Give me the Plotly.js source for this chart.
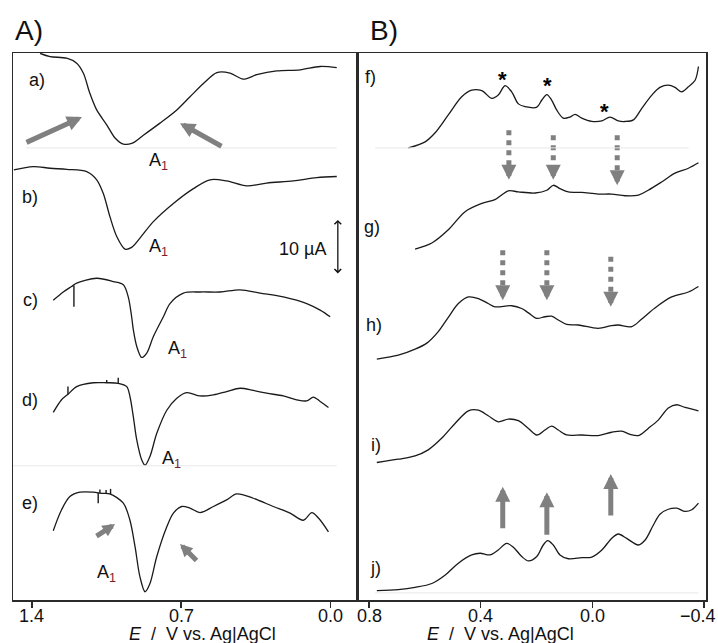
<!DOCTYPE html>
<html><head><meta charset="utf-8">
<script src="https://cdn.plot.ly/plotly-3.0.1.min.js"></script>
<style>html,body{margin:0;padding:0;background:#fff}#chart{width:718px;height:643px}</style>
</head><body><div id="chart"></div>
<script>
// ---- Panel A: potential (V) and offset current (uA) ----
const eA = [1.362,1.315,1.237,1.190,1.159,1.128,1.096,1.049,1.010,0.971,0.932,0.877,0.799,0.720,0.658,0.595,0.532,0.470,0.408,0.345,0.251,0.141,0.047,-0.031];
const iA = [99.4,98.8,98.5,97.6,95.8,92.1,89.1,86.4,84.0,82.9,83.0,84.5,86.7,89.1,91.5,93.9,95.9,95.8,94.7,95.5,96.2,96.4,97.0,96.8];
const eB = [1.485,1.394,1.315,1.237,1.143,1.096,1.065,1.034,1.002,0.963,0.932,0.893,0.830,0.736,0.642,0.564,0.486,0.391,0.298,0.173,0.063,-0.031];
const iB = [78.2,78.8,78.5,78.3,77.9,76.4,73.9,69.7,66.1,63.8,64.1,65.8,68.8,72.1,74.8,76.4,76.2,75.3,75.8,76.2,76.8,77.0];
const eC = [1.300,1.253,1.214,1.190,1.096,1.018,0.971,0.948,0.932,0.924,0.908,0.885,0.861,0.830,0.783,0.752,0.689,0.611,0.517,0.423,0.329,0.220,0.110,0.047,0.000];
const iC = [54.5,56.0,57.0,57.6,58.5,57.9,57.3,55.1,51.5,49.1,46.1,44.1,44.9,47.9,51.5,53.9,55.8,56.0,56.0,56.4,55.8,55.1,53.9,52.7,51.5];
const eD = [1.300,1.261,1.231,1.190,1.112,1.049,0.995,0.955,0.940,0.924,0.908,0.885,0.869,0.846,0.814,0.767,0.720,0.673,0.611,0.548,0.486,0.423,0.361,0.298,0.220,0.157,0.110,0.079,0.047,0.008];
const iD = [34.1,36.4,37.4,38.8,39.5,39.5,39.4,38.8,37.0,33.3,29.1,25.5,24.5,26.1,30.3,34.5,36.7,37.7,37.1,37.3,37.9,38.5,38.1,37.6,37.1,36.4,36.2,36.9,36.1,35.0];
const eE = [1.300,1.261,1.222,1.175,1.112,1.073,1.034,0.971,0.940,0.916,0.893,0.869,0.846,0.814,0.767,0.736,0.697,0.658,0.611,0.548,0.486,0.439,0.361,0.267,0.188,0.126,0.086,0.055,0.008];
const iE = [12.6,16.4,18.8,19.6,19.6,19.4,19.3,17.6,14.5,9.7,4.2,1.5,3.0,7.9,13.3,15.8,17.0,16.7,15.9,17.0,18.2,19.3,18.5,17.0,15.8,14.5,15.9,14.9,12.4];
// short noise spikes on c, d, e (potential, from-current, to-current)
const spikeE  = [1.203,1.231,1.049,0.995,1.089,1.081,1.052,1.031];
const spikeI0 = [57.2,37.4,39.5,39.4,19.5,19.4,19.4,19.2];
const spikeI1 = [53.3,38.8,40.0,40.4,17.6,20.1,20.0,20.2];
// ---- Panel B ----
const eF = [0.659,0.599,0.564,0.516,0.468,0.432,0.396,0.360,0.337,0.313,0.289,0.265,0.241,0.199,0.181,0.163,0.146,0.128,0.104,0.080,0.062,0.038,0.002,-0.034,-0.063,-0.093,-0.117,-0.147,-0.177,-0.213,-0.242,-0.272,-0.296,-0.320,-0.344,-0.368,-0.380];
const iF = [82.2,83.3,84.9,88.2,91.5,92.7,92.6,91.2,91.8,93.5,92.4,90.2,89.7,89.6,90.9,91.9,90.9,89.1,87.6,87.8,88.3,87.6,87.0,87.1,87.8,87.1,87.0,87.3,89.4,91.8,93.2,93.6,93.2,92.4,93.3,94.5,97.0];
const eG = [0.635,0.575,0.516,0.456,0.396,0.349,0.301,0.265,0.205,0.163,0.140,0.116,0.086,0.038,-0.021,-0.069,-0.117,-0.165,-0.200,-0.248,-0.296,-0.344,-0.380];
const iG = [63.8,64.9,67.3,70.6,72.1,72.8,74.4,74.2,74.0,74.5,75.4,74.8,74.2,74.1,73.8,73.8,73.5,73.6,74.5,76.0,77.6,78.5,79.5];
const eH = [0.772,0.695,0.635,0.593,0.552,0.516,0.480,0.444,0.408,0.373,0.349,0.289,0.253,0.229,0.199,0.170,0.146,0.122,0.092,0.050,-0.021,-0.069,-0.093,-0.141,-0.177,-0.224,-0.284,-0.344,-0.380];
const iH = [43.8,44.5,45.6,46.7,48.8,51.4,53.9,55.1,54.8,53.9,53.3,53.5,53.0,52.2,51.2,51.5,51.6,50.9,50.1,50.0,49.4,49.9,50.0,49.7,51.1,53.1,55.1,56.0,57.0];
const eI = [0.772,0.695,0.635,0.588,0.540,0.492,0.444,0.408,0.373,0.337,0.301,0.265,0.229,0.199,0.170,0.146,0.122,0.092,0.038,-0.021,-0.069,-0.105,-0.135,-0.165,-0.200,-0.236,-0.272,-0.302,-0.332,-0.380];
const iI = [25.0,25.6,26.2,27.3,29.4,32.1,34.4,34.5,33.5,32.4,32.9,32.6,31.2,30.0,30.9,31.6,30.9,30.0,30.0,29.9,30.5,30.7,30.1,29.9,31.2,32.7,34.9,35.5,35.0,34.4];
const eJ = [0.772,0.695,0.635,0.575,0.528,0.480,0.432,0.402,0.367,0.337,0.307,0.283,0.253,0.229,0.199,0.176,0.160,0.140,0.116,0.086,0.038,0.002,-0.034,-0.069,-0.093,-0.123,-0.165,-0.189,-0.218,-0.242,-0.272,-0.302,-0.332,-0.356,-0.380];
const iJ = [1.7,1.9,2.3,3.0,4.5,6.7,8.2,8.5,8.2,9.1,10.3,9.6,7.9,7.1,7.9,10.0,10.8,10.0,8.2,7.5,7.7,7.8,9.1,11.2,12.0,11.2,10.0,10.9,13.6,15.6,16.5,16.7,16.1,16.4,17.6];

// labels
const curveLabelsA = ['a)','b)','c)','d)','e)'];
const curveLabelEA = [1.377,1.409,1.409,1.409,1.409];
const curveLabelIA = [94.5,73.3,54.5,36.4,17.6];
const curveLabelsB = ['f)','g)','h)','i)','j)'];
const curveLabelEB = [0.796,0.789,0.782,0.775,0.778];
const curveLabelIB = [95.1,67.8,50.0,28.2,5.8];
const peakE = [0.808,0.808,0.719,0.747,1.052];
const peakI = [79.8,64.0,45.5,25.5,4.9];
const starE = [0.321,0.160,-0.045];
const starI = [94.7,93.6,88.9];
const tickValsA = [1.4,0.7,0.0], tickTextA = ['1.4','0.7','0.0'];
const tickValsB = [0.8,0.4,0.0,-0.4], tickTextB = ['0.8','0.4','0.0','\u22120.4'];

const FONT = 'Arial, "Liberation Sans", sans-serif';
const lineStyle = {color:'#1a1a1a', width:1.3, shape:'spline', smoothing:0.9};
const traces = [];
[[eA,iA],[eB,iB],[eC,iC],[eD,iD],[eE,iE]].forEach(p=>traces.push({x:p[0],y:p[1],xaxis:'x',yaxis:'y',mode:'lines',line:lineStyle,hoverinfo:'skip'}));
[[eF,iF],[eG,iG],[eH,iH],[eI,iI],[eJ,iJ]].forEach(p=>traces.push({x:p[0],y:p[1],xaxis:'x2',yaxis:'y2',mode:'lines',line:lineStyle,hoverinfo:'skip'}));
const sx=[], sy=[];
spikeE.forEach((e,k)=>{sx.push(e,e,null); sy.push(spikeI0[k],spikeI1[k],null);});
traces.push({x:sx,y:sy,xaxis:'x',yaxis:'y',mode:'lines',line:{color:'#1a1a1a',width:1.4},hoverinfo:'skip'});

const ann = [];
const tf = {family:FONT,size:18,color:'#111'};
curveLabelsA.forEach((t,k)=>ann.push({xref:'x',yref:'y',x:curveLabelEA[k],y:curveLabelIA[k],text:t,showarrow:false,font:tf}));
curveLabelsB.forEach((t,k)=>ann.push({xref:'x2',yref:'y2',x:curveLabelEB[k],y:curveLabelIB[k],text:t,showarrow:false,font:tf}));
peakE.forEach((e,k)=>ann.push({xref:'x',yref:'y',x:e,y:peakI[k],text:'A<sub><span style="color:#7d1d2a">1</span></sub>',showarrow:false,font:tf}));
starE.forEach((e,k)=>ann.push({xref:'x2',yref:'y2',x:e,y:starI[k],text:'<b>*</b>',showarrow:false,font:{family:FONT,size:22,color:'#000'}}));
// tick labels, placed at the axes' tick values just under the frame
tickValsA.forEach((v,k)=>ann.push({xref:'x',yref:'paper',x:v,y:-0.0295,xanchor:'center',yanchor:'middle',text:tickTextA[k],showarrow:false,font:tf}));
tickValsB.forEach((v,k)=>ann.push({xref:'x2',yref:'paper',x:v,y:-0.0295,xanchor:'center',yanchor:'middle',
  xshift:(k===tickValsB.length-1?-6:0),text:tickTextB[k],showarrow:false,font:tf}));
// panel letters
ann.push({xref:'paper',yref:'paper',x:0,xanchor:'left',y:1.042,yanchor:'middle',text:'A)',showarrow:false,font:{family:FONT,size:28,color:'#111'}});
ann.push({xref:'paper',yref:'paper',x:0.5122,xanchor:'left',y:1.042,yanchor:'middle',text:'B)',showarrow:false,font:{family:FONT,size:28,color:'#111'}});
// axis titles
const xt = '<i>E</i>\u00a0\u00a0/\u00a0\u00a0V vs. Ag|AgCl';
ann.push({xref:'paper',yref:'paper',x:0.274,xanchor:'center',y:-0.0615,yanchor:'middle',text:xt,showarrow:false,font:tf});
ann.push({xref:'paper',yref:'paper',x:0.704,xanchor:'center',y:-0.0615,yanchor:'middle',text:xt,showarrow:false,font:tf});
// scale bar
ann.push({xref:'x',yref:'y',x:-0.036,y:69.1,axref:'x',ayref:'y',ax:-0.036,ay:59.1,text:'',showarrow:true,arrowside:'end+start',arrowhead:4,arrowsize:1,arrowwidth:1.3,arrowcolor:'#111'});
ann.push({xref:'x',yref:'y',x:0.010,y:63.8,xanchor:'right',text:'10 \u00b5A',showarrow:false,font:tf});
// grey solid arrows
const G = '#808080';
const solid = (xr,yr,x,y,ax,ay,w,s)=>ann.push({xref:xr,yref:yr,x:x,y:y,ax:ax,ay:ay,text:'',showarrow:true,arrowhead:2,arrowsize:s,arrowwidth:w,arrowcolor:G});
solid('x','y',1.165,87.8,-57,26,5,0.6);
solid('x','y',0.705,86.7,43,24,5,0.6);
solid('x','y',1.010,13.8,-20,13,5,0.5);
solid('x','y',0.705,10.2,18,18,5,0.5);
solid('x2','y2',0.321,20.6,0,43,5,0.6);
solid('x2','y2',0.163,19.6,0,44,5,0.6);
solid('x2','y2',-0.066,22.9,0,43,5,0.6);
// dotted arrows (shaft shapes + heads)
const shapes = [];
const dotE = [0.299,0.140,-0.089,0.321,0.163,-0.066];
const dotTop = [85.4,84.5,84.5,63.6,63.6,62.4];
const dotBase = [78.9,78.9,78.0,57.1,57.1,55.8];
const dotTip = [76.4,76.4,75.4,54.5,54.5,53.3];
dotE.forEach((e,k)=>{
  shapes.push({type:'line',xref:'x2',yref:'y2',x0:e,x1:e,y0:dotTop[k],y1:dotBase[k],line:{color:G,width:5,dash:'dot'}});
  solid('x2','y2',e,dotTip[k],0,-12,5,0.6);
});
// faint separator lines
shapes.push({type:'line',xref:'x',yref:'y',x0:1.430,x1:-0.031,y0:82.2,y1:82.2,line:{color:'#e8e8e8',width:1}});
shapes.push({type:'line',xref:'x',yref:'y',x0:1.489,x1:-0.031,y0:24.4,y1:24.4,line:{color:'#e8e8e8',width:1}});
shapes.push({type:'line',xref:'x2',yref:'y2',x0:0.778,x1:-0.345,y0:82.2,y1:82.2,line:{color:'#e8e8e8',width:1}});
shapes.push({type:'line',xref:'x2',yref:'y2',x0:0.778,x1:-0.380,y0:1.3,y1:1.3,line:{color:'#e8e8e8',width:1}});

const axBase = {showline:true,mirror:true,linecolor:'#2a2a2a',linewidth:1.5,showgrid:false,zeroline:false,fixedrange:true};
const xTick = {tickmode:'array',ticks:'outside',ticklen:6,tickwidth:1.3,tickcolor:'#2a2a2a',showticklabels:false};
const layout = {
  width:718,height:643,margin:{l:13,r:12,t:53,b:43},
  paper_bgcolor:'#fff',plot_bgcolor:'#fff',showlegend:false,
  font:{family:FONT,size:18,color:'#111'},
  xaxis:Object.assign({},axBase,xTick,{domain:[0,0.4964],range:[1.489,-0.126],tickvals:tickValsA,ticktext:tickTextA,anchor:'y'}),
  yaxis:Object.assign({},axBase,{range:[0,99.45],showticklabels:false,ticks:'',anchor:'x'}),
  xaxis2:Object.assign({},axBase,xTick,{domain:[0.4964,1],range:[0.843,-0.407],tickvals:tickValsB,ticktext:tickTextB,anchor:'y2'}),
  yaxis2:Object.assign({},axBase,{range:[0,99.45],showticklabels:false,ticks:'',anchor:'x2'}),
  annotations:ann,shapes:shapes
};
Plotly.newPlot('chart',traces,layout,{staticPlot:true,displayModeBar:false});
</script></body></html>
